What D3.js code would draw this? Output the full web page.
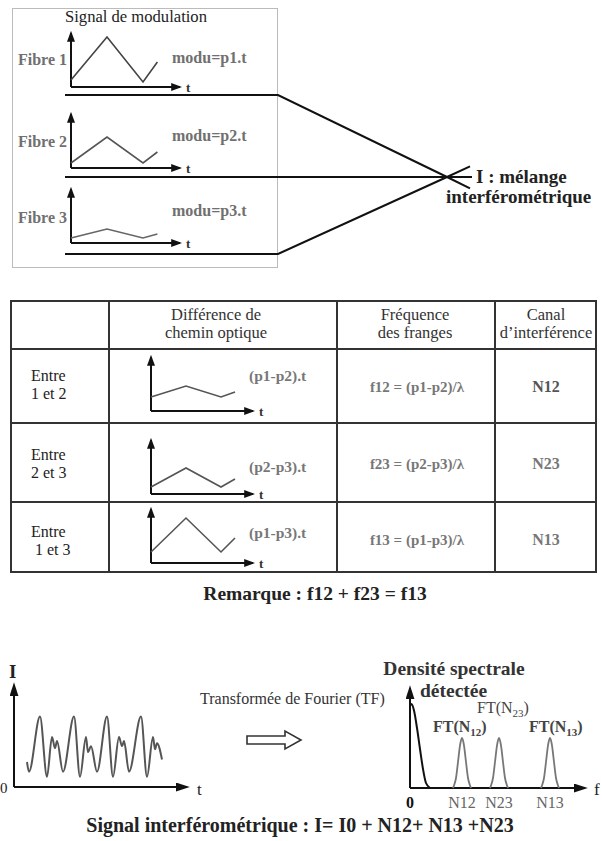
<!DOCTYPE html>
<html><head><meta charset="utf-8">
<script src="https://cdn.jsdelivr.net/npm/d3@7/dist/d3.min.js"></script>
<style>
body{margin:0;background:#fff}
svg{display:block}
</style>
</head><body>
<svg id="c" width="602" height="841"></svg>
<script>
// ---------- DATA ----------
const topTitle = "Signal de modulation";
const fibreLabels = ["Fibre 1", "Fibre 2", "Fibre 3"];
const moduLabels = ["modu=p1.t", "modu=p2.t", "modu=p3.t"];
const modT = [0, 1, 2, 2.4];
const fibre1Mod = [0.14, 1.0, 0.1, 0.5];
const fibre2Mod = [0.1, 0.62, 0.1, 0.32];
const fibre3Mod = [0.1, 0.28, 0.1, 0.18];
const mixLabel = ["I : mélange", "interférométrique"];

const tableHeaders = [["", ""], ["Différence de", "chemin optique"], ["Fréquence", "des franges"], ["Canal", "d\u2019interférence"]];
const pairLabels = [["Entre", "1 et 2"], ["Entre", "2 et 3"], ["Entre", " 1 et 3"]];
const diffLabels = ["(p1-p2).t", "(p2-p3).t", "(p1-p3).t"];
const diff12 = [0.28, 0.5, 0.28, 0.38];
const diff23 = [0.14, 0.52, 0.14, 0.3];
const diff13 = [0.22, 0.9, 0.22, 0.5];
const freqLabels = ["f12 = (p1-p2)/\u03bb", "f23 = (p2-p3)/\u03bb", "f13 = (p1-p3)/\u03bb"];
const channelLabels = ["N12", "N23", "N13"];
const remark = "Remarque : f12 + f23 = f13";

const signalT = [13, 15, 26, 33, 38, 41, 43, 49, 60, 66, 72, 74, 77, 83, 93, 99, 105, 108, 110, 115, 127, 133, 139, 141, 143, 148];
const signalI = [2.45, 1.5, 6.9, 1.0, 4.9, 3.8, 4.5, 1.5, 6.9, 1.0, 4.9, 3.4, 4.0, 1.5, 6.9, 1.0, 4.9, 4.0, 4.5, 1.5, 6.9, 1.0, 4.9, 3.7, 4.3, 2.7];
const tfLabel = "Transformée de Fourier (TF)";

const dcF = [0, 1.5, 4, 7, 10, 13, 16, 20];
const dcV = [1.64, 1.68, 1.55, 1.2, 0.78, 0.38, 0.1, 0];
const peakV = [0, 0.05, 0.2, 0.52, 0.85, 1, 0.85, 0.52, 0.2, 0.05, 0];
const peakN12F = [43, 44, 46, 48, 50, 52, 54, 56, 58, 60, 61];
const peakN23F = [80, 81, 83, 85, 87, 89, 91, 93, 95, 97, 98];
const peakN13F = [131, 132, 134, 136, 138, 140, 142, 144, 146, 148, 149];
const freqTicks = [0, 52, 89, 140];
const freqTickLabels = ["0", "N12", "N23", "N13"];
const spectrumTitle = ["Densité spectrale", "détectée"];
const bottomFormula = "Signal interférométrique : I= I0 + N12+ N13 +N23";

// ---------- DRAW ----------
const SERIF = "Liberation Serif";
const svg = d3.select("#c").style("font-family", SERIF);
const defs = svg.append("defs");
function marker(id, w, h, color) {
  defs.append("marker").attr("id", id).attr("viewBox", "0 0 10 10")
    .attr("refX", 8).attr("refY", 5).attr("markerWidth", w).attr("markerHeight", h)
    .attr("markerUnits", "userSpaceOnUse").attr("orient", "auto")
    .attr("preserveAspectRatio", "none")
    .append("path").attr("d", "M0,0L10,5L0,10Z").attr("fill", color);
}
marker("arrS", 11, 8, "#111");
marker("arrL", 14, 9, "#111");

function txt(g, x, y, size, s, opts = {}) {
  const t = g.append("text").attr("x", x).attr("y", y).attr("font-size", size)
    .style("font-family", SERIF)
    .attr("font-weight", opts.bold ? "bold" : "normal")
    .attr("fill", opts.fill || "#222")
    .attr("text-anchor", opts.anchor || "start");
  if (s !== null) t.text(s);
  return t;
}

const line = d3.line().x(d => d[0]).y(d => d[1]);

function miniChart(g, ox, oy, xLen, pxPerUnit, vals, color, sw) {
  const x = d3.scaleLinear().domain([0, xLen / pxPerUnit]).range([ox, ox + xLen]);
  const y = d3.scaleLinear().domain([0, 1.08]).range([oy, oy - 54]);
  g.append("line").attr("x1", x(0)).attr("y1", y(0)).attr("x2", x.range()[1]).attr("y2", y(0))
    .attr("stroke", "#111").attr("stroke-width", 2).attr("marker-end", "url(#arrS)");
  g.append("line").attr("x1", x(0)).attr("y1", y(0)).attr("x2", x(0)).attr("y2", y.range()[1])
    .attr("stroke", "#111").attr("stroke-width", 2).attr("marker-end", "url(#arrS)");
  g.append("path").attr("d", line(modT.map((t, i) => [x(t), y(vals[i])])))
    .attr("fill", "none").attr("stroke", color).attr("stroke-width", sw);
  txt(g, x.range()[1] + 6, oy + 5, 13, "t", { bold: true, fill: "#333" });
}

// top box
svg.append("rect").attr("x", 12.5).attr("y", 8.5).attr("width", 265).attr("height", 259)
  .attr("fill", "none").attr("stroke", "#bbb").attr("stroke-width", 1);
txt(svg, 65, 22, 16.6, topTitle);

const fibreAxisY = [87, 168, 243];
const fibreLineY = [95, 177, 254];
const fibreLabelY = [65, 147, 223];
const moduLabelY = [63, 141, 216];
const fibreMods = [fibre1Mod, fibre2Mod, fibre3Mod];
const fibreColors = ["#444", "#555", "#666"];
const gTop = svg.append("g");
fibreLabels.forEach((lab, i) => {
  txt(gTop, 18, fibreLabelY[i], 16, lab, { bold: true, fill: "#707070" });
  txt(gTop, 172, moduLabelY[i], 16, moduLabels[i], { bold: true, fill: "#707070" });
  miniChart(gTop, 71, fibreAxisY[i], 109, 36, fibreMods[i], fibreColors[i], 1.6);
});

// fibre lines and mixing
const cx = 447, cy = 177;
const fl = gTop.append("g").attr("stroke", "#111").attr("stroke-width", 2).attr("fill", "none");
fl.append("path").attr("d", line([[65, fibreLineY[0]], [278, fibreLineY[0]], [cx, cy], [cx + 23, cy + 11.3]]));
fl.append("path").attr("d", line([[65, fibreLineY[2]], [278, fibreLineY[2]], [cx, cy], [cx + 23, cy - 10.6]]));
fl.append("path").attr("d", line([[65, fibreLineY[1]], [cx + 25, fibreLineY[1]]]));
txt(gTop, 476, 183, 19, mixLabel[0], { bold: true });
txt(gTop, 446, 203, 19, mixLabel[1], { bold: true });

// table
const colX = [11, 109, 337, 495, 596];
const rowY = [301, 349, 423, 502, 572];
const gT = svg.append("g");
gT.append("rect").attr("x", colX[0]).attr("y", rowY[0]).attr("width", colX[4] - colX[0]).attr("height", rowY[4] - rowY[0])
  .attr("fill", "none").attr("stroke", "#333").attr("stroke-width", 2);
colX.slice(1, 4).forEach(x => gT.append("line").attr("x1", x).attr("x2", x).attr("y1", rowY[0]).attr("y2", rowY[4])
  .attr("stroke", "#333").attr("stroke-width", 2));
rowY.slice(1, 4).forEach(y => gT.append("line").attr("x1", colX[0]).attr("x2", colX[4]).attr("y1", y).attr("y2", y)
  .attr("stroke", "#333").attr("stroke-width", 2));
const headX = [60, 216, 415, 546];
tableHeaders.forEach((h, i) => {
  if (!h[0]) return;
  txt(gT, headX[i], 320, 16.5, h[0], { anchor: "middle", fill: "#333" });
  txt(gT, headX[i], 338, 16.5, h[1], { anchor: "middle", fill: "#333" });
});
const pairY = [[381, 399], [460, 478], [537, 555]];
const diffAxisY = [411, 494, 563];
const diffLabY = [381, 472, 538];
const colTextY = [392, 469, 545];
const diffs = [diff12, diff23, diff13];
const chanColors = ["#555", "#777", "#777"];
pairLabels.forEach((p, i) => {
  txt(gT, 31, pairY[i][0], 16, p[0]);
  txt(gT, 31, pairY[i][1], 16, p[1]).style("white-space", "pre");
  miniChart(gT, 151, diffAxisY[i], 102, 35, diffs[i], "#555", 1.6);
  txt(gT, 249, diffLabY[i], 15.5, diffLabels[i], { bold: true, fill: "#777" });
  txt(gT, 417, colTextY[i], 15, freqLabels[i], { bold: true, fill: "#777", anchor: "middle" });
  txt(gT, 546, colTextY[i], 16, channelLabels[i], { bold: true, fill: chanColors[i], anchor: "middle" });
});
txt(svg, 315, 600, 19.5, remark, { bold: true, anchor: "middle" });

// bottom left: interferometric signal
const gB = svg.append("g");
const sx = d3.scaleLinear().domain([0, 173]).range([14, 187]);
const sy = d3.scaleLinear().domain([0, 10]).range([787, 685]);
gB.append("line").attr("x1", sx(0)).attr("y1", sy(0)).attr("x2", sx(173)).attr("y2", sy(0))
  .attr("stroke", "#111").attr("stroke-width", 2).attr("marker-end", "url(#arrL)");
gB.append("line").attr("x1", sx(0)).attr("y1", sy(0)).attr("x2", sx(0)).attr("y2", sy(10))
  .attr("stroke", "#111").attr("stroke-width", 2).attr("marker-end", "url(#arrL)");
gB.append("path").attr("d", d3.line().curve(d3.curveMonotoneX).x(d => sx(d[0])).y(d => sy(d[1]))(signalT.map((t, i) => [t, signalI[i]])))
  .attr("fill", "none").attr("stroke", "#555").attr("stroke-width", 2);
txt(gB, 9, 678, 19, "I", { bold: true });
txt(gB, 0, 793, 15, "0");
txt(gB, 197, 795, 17, "t");

// TF arrow
txt(gB, 200, 704, 16, tfLabel, { fill: "#333" });
gB.append("path").attr("d", "M247,736L285,736L285,731L301,740L285,749L285,744L247,744Z")
  .attr("fill", "#fff").attr("stroke", "#333").attr("stroke-width", 1.6).attr("stroke-linejoin", "miter");

// spectrum
const fx = d3.scaleLinear().domain([0, 175]).range([410, 585]);
const fy = d3.scaleLinear().domain([0, 2]).range([788, 688]);
gB.append("line").attr("x1", fx(0)).attr("y1", fy(0)).attr("x2", fx(175)).attr("y2", fy(0))
  .attr("stroke", "#111").attr("stroke-width", 2).attr("marker-end", "url(#arrL)");
gB.append("line").attr("x1", fx(0)).attr("y1", fy(0)).attr("x2", fx(0)).attr("y2", fy(2))
  .attr("stroke", "#111").attr("stroke-width", 2).attr("marker-end", "url(#arrL)");
const specLine = d3.line().curve(d3.curveMonotoneX).x(d => fx(d[0])).y(d => fy(d[1]));
gB.append("path").attr("d", specLine(dcF.map((f, i) => [f, dcV[i]]))).attr("fill", "none").attr("stroke", "#111").attr("stroke-width", 2);
[peakN12F, peakN23F, peakN13F].forEach(pf => {
  gB.append("path").attr("d", specLine(pf.map((f, i) => [f, peakV[i]]))).attr("fill", "none").attr("stroke", "#777").attr("stroke-width", 1.8);
});
freqTicks.forEach((f, i) => {
  txt(gB, fx(f), 808, 16, freqTickLabels[i], { bold: i === 0, fill: i === 0 ? "#111" : "#666", anchor: "middle" });
});
txt(gB, 594, 795, 17, "f");
txt(gB, 454, 675, 19.5, spectrumTitle[0], { bold: true, fill: "#333", anchor: "middle" });
txt(gB, 420, 697, 19.5, spectrumTitle[1], { bold: true, fill: "#333" });

function ftLabel(x, y, sub, bold) {
  const t = txt(gB, x, y, 16, null, { bold: bold, fill: "#444" });
  t.append("tspan").text("FT(N");
  t.append("tspan").attr("font-size", 11).attr("dy", 4).text(sub);
  t.append("tspan").attr("dy", -4).text(")");
}
ftLabel(433, 732, "12", true);
ftLabel(477, 713, "23", false);
ftLabel(529, 732, "13", true);

txt(svg, 300, 832, 20, bottomFormula, { bold: true, anchor: "middle" });
</script>
</body></html>
